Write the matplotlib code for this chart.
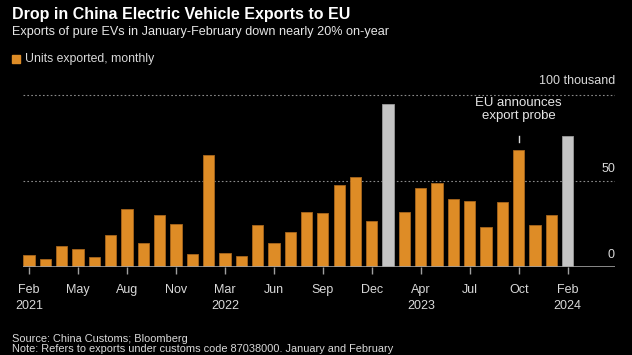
import matplotlib.pyplot as plt
import numpy as np

plt.rcParams['font.family'] = ['Liberation Sans Narrow', 'Liberation Sans', 'DejaVu Sans']

# monthly EV exports to EU, thousand units (Feb 2021 .. Feb 2024, Jan+Feb combined)
values = [7.1, 5.0, 12.5, 10.8, 5.8, 18.9, 33.6, 14.3, 30.3, 25.3, 7.7, 65.0,
          8.1, 6.4, 24.7, 14.1, 20.3, 32.0, 31.3, 47.8, 52.3, 26.8, 94.4,
          32.0, 46.1, 48.6, 39.7, 38.6, 23.5, 37.8, 67.7, 24.3, 30.3, 75.9]
gray_bars = [22, 33]  # Jan-Feb 2023, Jan-Feb 2024
tick_pos = list(range(0, 34, 3))
tick_labels = ['Feb\n2021', 'May', 'Aug', 'Nov', 'Mar\n2022', 'Jun', 'Sep', 'Dec',
               'Apr\n2023', 'Jul', 'Oct', 'Feb\n2024']

W, H = 632, 355
fig = plt.figure(figsize=(W/100, H/100), dpi=100, facecolor='black')

# axes placed in pixel coords
left, right, base = 23, 615, 267.3
ymax = 105
ppu = 1.727
ax = fig.add_axes([left/W, (H-base)/H, (right-left)/W, ymax*ppu/H])
ax.set_facecolor('black')

x = np.arange(len(values))
colors = ['#c4c4c4' if i in gray_bars else '#de8c26' for i in x]
edges = ['#9a9a9a' if i in gray_bars else '#a8661c' for i in x]
ax.bar(x, values, width=0.69, color=colors, edgecolor=edges, linewidth=0.6, zorder=3)

ax.set_xlim(-0.37, 35.9)
ax.set_ylim(0, ymax)

for yv in [50, 100]:
    ax.axhline(yv, color='#8a8a8a', lw=0.8, ls=(0, (1.5, 2)), zorder=1)
ax.axhline(0, color='#a0a0a0', lw=1.2, zorder=4)

for s in ax.spines.values():
    s.set_visible(False)
ax.set_yticks([])
ax.set_xticks(tick_pos)
ax.set_xticklabels(tick_labels, color='#d9d9d9', fontsize=9, linespacing=1.45)
ax.tick_params(axis='x', length=5, width=1, color='#a0a0a0', pad=7)

ylab = dict(transform=ax.get_yaxis_transform(), ha='right', va='bottom',
            color='#d9d9d9', fontsize=9)
ax.text(1.0, 104.5, '100 thousand', **ylab)
ax.text(1.0, 53.5, '50', **ylab)
ax.text(1.0, 3.5, '0', **ylab)

ax.text(30, 84, 'EU announces\nexport probe', ha='center', va='bottom',
        color='#e6e6e6', fontsize=9.5, linespacing=1.15)
ax.plot([30, 30], [72.3, 76], color='#d9d9d9', lw=1, zorder=4)

fig.text(12/W, 1-14/H, 'Drop in China Electric Vehicle Exports to EU', color='white',
         fontsize=11.5, fontweight='bold', va='center', ha='left')
fig.text(12/W, 1-32/H, 'Exports of pure EVs in January-February down nearly 20% on-year',
         color='#e6e6e6', fontsize=9.1, va='center', ha='left')
fig.patches.append(plt.Rectangle((12/W, 1-63/H), 8/W, 8/H, color='#de8c26',
                                 transform=fig.transFigure, figure=fig))
fig.text(25/W, 1-59/H, 'Units exported, monthly', color='#d9d9d9', fontsize=8.8,
         va='center', ha='left')

fig.text(12/W, 1-339/H, 'Source: China Customs; Bloomberg', color='#d9d9d9',
         fontsize=7.9, va='center', ha='left')
fig.text(12/W, 1-349.5/H, 'Note: Refers to exports under customs code 87038000. January and February',
         color='#d9d9d9', fontsize=7.9, va='center', ha='left')

fig.savefig('out.png', dpi=100, facecolor='black')
